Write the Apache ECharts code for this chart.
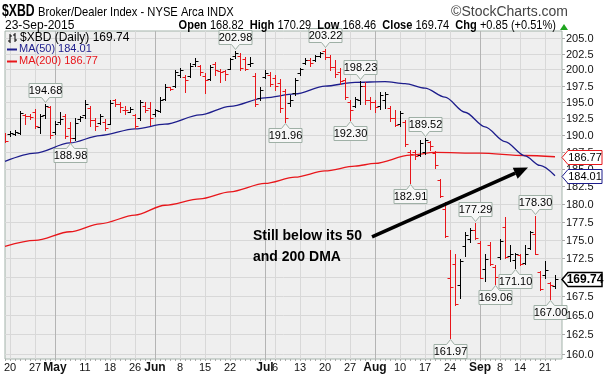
<!DOCTYPE html>
<html>
<head>
<meta charset="utf-8">
<script src="https://cdn.jsdelivr.net/npm/echarts@6/dist/echarts.min.js"></script>
<style>
  html, body { margin: 0; padding: 0; background: #fff; }
  #chart { width: 606px; height: 378px; }
</style>
</head>
<body>
<div id="chart"></div>
<script>
// $XBD daily OHLC, 17-Apr-2015 .. 23-Sep-2015
const dates = [
  '04-17','04-20','04-21','04-22','04-23','04-24','04-27','04-28','04-29','04-30',
  '05-01','05-04','05-05','05-06','05-07','05-08','05-11','05-12','05-13','05-14','05-15','05-18','05-19','05-20','05-21','05-22','05-26','05-27','05-28','05-29',
  '06-01','06-02','06-03','06-04','06-05','06-08','06-09','06-10','06-11','06-12','06-15','06-16','06-17','06-18','06-19','06-22','06-23','06-24','06-25','06-26','06-29','06-30',
  '07-01','07-02','07-06','07-07','07-08','07-09','07-10','07-13','07-14','07-15','07-16','07-17','07-20','07-21','07-22','07-23','07-24','07-27','07-28','07-29','07-30','07-31',
  '08-03','08-04','08-05','08-06','08-07','08-10','08-11','08-12','08-13','08-14','08-17','08-18','08-19','08-20','08-21','08-24','08-25','08-26','08-27','08-28','08-31',
  '09-01','09-02','09-03','09-04','09-08','09-09','09-10','09-11','09-14','09-15','09-16','09-17','09-18','09-21','09-22','09-23'
];
const opens = [
  190.0,190.2,190.2,190.3,193.0,192.9,193.4,191.2,193.0,194.2,
  190.4,191.9,192.9,191.0,189.6,192.4,193.0,194.0,192.3,191.8,192.0,191.7,195.3,194.6,193.8,193.5,193.0,192.5,194.4,194.1,
  193.1,193.6,195.4,197.2,197.5,199.2,198.8,199.0,200.9,200.5,199.0,198.5,200.8,199.8,199.8,200.1,202.1,202.2,201.7,200.8,199.0,195.6,
  198.9,199.2,198.6,197.9,196.6,194.8,196.4,199.4,201.0,201.5,201.5,202.1,203.0,201.9,200.4,199.6,198.3,195.0,194.4,195.3,197.4,195.3,
  194.9,194.3,195.2,194.0,192.6,191.7,191.9,187.5,187.5,187.0,187.4,188.9,187.3,183.4,179.3,169.85,171.7,168.9,174.1,175.1,176.35,
  174.6,171.0,174.3,171.3,172.6,176.7,172.8,172.2,172.9,171.9,173.9,175.8,170.6,170.2,169.1,168.82
];
const highs = [
  190.3,190.6,190.8,193.6,193.2,193.1,193.9,193.1,194.68,194.4,
  192.1,193.4,193.2,191.9,192.6,192.9,195.2,194.4,192.6,193.1,192.4,195.2,195.5,194.9,194.3,194.2,193.1,195.2,195.0,194.95,
  193.9,195.7,197.8,197.3,199.9,200.2,199.2,201.0,201.8,200.7,199.4,200.7,201.1,200.0,199.9,201.8,202.98,202.6,202.0,202.0,199.4,197.3,
  199.9,199.6,199.1,198.5,197.0,196.0,198.6,200.2,201.8,201.8,202.3,202.8,203.22,202.3,201.5,200.2,198.6,195.2,195.7,198.23,198.1,195.7,
  195.2,196.5,196.5,194.3,193.7,193.6,192.2,187.8,187.8,189.3,189.52,189.1,187.6,183.6,180.2,173.54,173.1,172.37,176.05,176.57,177.29,
  174.84,173.1,174.66,171.5,175.1,178.13,174.3,173.2,173.1,174.3,176.26,178.30,170.76,172.15,169.33,170.29
];
const lows = [
  189.0,189.9,190.0,190.1,191.6,192.4,191.1,190.3,192.6,189.6,
  190.1,191.6,189.6,188.98,189.3,192.1,192.6,191.4,190.8,191.6,190.8,191.6,194.4,193.4,193.2,193.4,191.0,192.3,193.4,191.5,
  192.9,193.4,195.2,196.8,197.3,198.9,196.5,198.9,200.5,199.15,196.3,198.4,199.15,198.1,198.4,200.0,201.8,199.9,199.9,200.5,194.4,195.2,
  198.6,197.4,196.8,193.5,191.96,194.3,196.1,199.2,200.9,200.5,201.4,201.9,201.6,199.9,198.9,197.8,195.5,192.30,194.2,194.7,194.7,193.9,
  193.4,193.9,194.0,192.1,191.3,191.4,188.3,182.91,186.4,186.9,187.1,187.8,185.1,181.0,175.4,161.97,166.3,167.17,172.8,174.75,175.1,
  169.77,169.46,171.63,169.06,172.37,172.5,172.15,171.10,171.6,171.7,173.67,173.0,168.25,169.77,167.00,168.46
];
const closes = [
  189.14,190.35,190.45,193.3,192.9,192.7,191.4,192.9,194.3,190.0,
  191.7,192.4,189.9,189.5,191.8,192.7,194.7,192.3,191.3,192.8,191.0,194.8,194.6,194.2,193.7,193.9,191.4,194.9,193.7,192.5,
  193.7,195.3,197.3,196.9,199.6,199.9,198.3,200.6,201.3,199.6,198.3,200.4,199.9,199.6,199.3,201.6,202.6,200.2,200.0,201.0,194.6,196.8,
  199.4,197.8,197.4,194.0,192.5,195.3,198.3,200.0,201.5,201.0,202.2,202.6,201.9,200.4,199.3,198.2,195.8,193.8,195.5,197.5,195.2,194.9,
  194.2,196.0,196.2,192.5,191.5,193.3,188.6,187.2,186.9,188.8,189.2,188.4,185.6,181.1,175.5,168.6,166.4,172.15,175.6,176.3,175.2,
  169.85,172.4,171.7,170.0,174.8,172.6,173.0,173.1,171.7,173.1,176.0,173.1,168.4,170.94,168.89,169.74
];

// moving averages, sampled off the chart at these bar positions
const ma50Idx = [0, 6, 13, 19, 26, 32, 39, 45, 52, 58, 64, 70, 76, 80, 84, 88, 92, 96, 100, 104, 107, 110];
const ma50Val = [186.1, 187.3, 188.8, 189.9, 190.9, 191.6, 193.0, 194.3, 195.6, 196.2, 197.4, 198.0, 198.1, 197.8, 197.1, 195.7, 193.4, 191.2, 189.0, 186.9, 185.5, 184.01];
const ma200Idx = [0, 6, 13, 19, 26, 32, 39, 45, 52, 58, 64, 70, 74, 81, 86, 95, 104, 110];
const ma200Val = [174.1, 174.9, 176.1, 177.2, 178.4, 179.8, 180.7, 181.7, 182.9, 183.8, 184.7, 185.4, 185.8, 187.0, 187.4, 187.3, 186.95, 186.77];

// price callouts
const calloutIdx = [8, 13, 46, 56, 64, 69, 71, 81, 84, 89, 94, 98, 102, 106, 109];
const calloutVal = [194.68, 188.98, 202.98, 191.96, 203.22, 192.30, 198.23, 182.91, 189.52, 161.97, 177.29, 169.06, 171.10, 178.30, 167.00];
const calloutHigh = [1, 0, 1, 0, 1, 0, 1, 0, 1, 0, 1, 0, 0, 1, 0];

// axis ticks
const tickIdx = [1, 6, 10, 16, 21, 26, 30, 35, 40, 45, 52, 54, 59, 64, 69, 74, 79, 84, 89, 95, 99, 103, 108];
const tickText = ['20', '27', 'May', '11', '18', '26', 'Jun', '8', '15', '22', 'Jul', '6', '13', '20', '27', 'Aug', '10', '17', '24', 'Sep', '8', '14', '21'];
const monthIdx = [10, 30, 52, 74, 95];
const yTicks = [160, 162.5, 165, 167.5, 170, 172.5, 175, 177.5, 180, 182.5, 185, 187.5, 190, 192.5, 195, 197.5, 200, 202.5, 205];

// arrow annotation (data coords)
const arrowFrom = [73.4, 175.4];
const arrowTo = [104.6, 185.2];

const FONT = '"Liberation Sans", Arial, sans-serif';
const RED = '#e8161b';
const NAVY = '#1d1d8c';

const bars = dates.map((d, i) => {
  const prev = i ? closes[i - 1] : opens[i];
  return [i, opens[i], highs[i], lows[i], closes[i], closes[i] >= prev ? 1 : 0];
});
const dayIdx = dates.map((d, i) => i);
const weekIdx = tickIdx.filter(i => monthIdx.indexOf(i) < 0);

function crisp (v) {
  return Math.round(v) + 0.5;
}

function renderBar (params, api) {
  const i = api.value(0);
  const x = crisp(api.coord([i, 180])[0]);
  const y = v => api.coord([i, v])[1];
  const color = api.value(5) ? '#000' : RED;
  const st = { stroke: color, lineWidth: 1 };
  const yo = crisp(y(api.value(1)));
  const yc = crisp(y(api.value(4)));
  return {
    type: 'group',
    children: [
      { type: 'line', shape: { x1: x, y1: Math.round(y(api.value(2))), x2: x, y2: Math.round(y(api.value(3))) + 1 }, style: st },
      { type: 'line', shape: { x1: x - 3, y1: yo, x2: x, y2: yo }, style: st },
      { type: 'line', shape: { x1: x, y1: yc, x2: x + 3, y2: yc }, style: st }
    ]
  };
}

function renderCallout (params, api) {
  const p = api.coord([api.value(0), api.value(1)]);
  const cx = crisp(p[0]);
  const w = 16.5;
  const h = 14;
  let pts, ty;
  if (api.value(2)) {
    const b = Math.round(p[1]) - 6.5;
    const t = b - h;
    pts = [[cx - w, t], [cx + w, t], [cx + w, b], [cx + 4, b], [cx, b + 5], [cx - 4, b], [cx - w, b]];
    ty = (t + b) / 2;
  } else {
    const t = Math.round(p[1]) + 6.5;
    const b = t + h;
    pts = [[cx - w, t], [cx - 4, t], [cx, t - 5], [cx + 4, t], [cx + w, t], [cx + w, b], [cx - w, b]];
    ty = (t + b) / 2;
  }
  return {
    type: 'group',
    children: [
      { type: 'polygon', shape: { points: pts }, style: { fill: '#f7f7f7', stroke: '#9fb0a6', lineWidth: 1 } },
      { type: 'text', style: { x: cx, y: ty + 0.5, text: api.value(1).toFixed(2), fill: '#000', fontSize: 11, fontFamily: FONT, align: 'center', verticalAlign: 'middle' } }
    ]
  };
}

function vLines (color) {
  return function (params, api) {
    const x = crisp(api.coord([api.value(0), 180])[0]);
    const cs = params.coordSys;
    return { type: 'line', shape: { x1: x, y1: cs.y, x2: x, y2: cs.y + cs.height }, style: { stroke: color, lineWidth: 1 } };
  };
}

function hLines (params, api) {
  const y = crisp(api.coord([0, api.value(1)])[1]);
  const cs = params.coordSys;
  return { type: 'line', shape: { x1: cs.x, y1: y, x2: cs.x + cs.width, y2: y }, style: { stroke: '#d8d8d8', lineWidth: 1 } };
}

// price labels on the right of the log axis
function yLabel (params, api) {
  const v = api.value(1);
  const y = crisp(api.coord([0, v])[1]);
  const x0 = params.coordSys.x + params.coordSys.width;
  return {
    type: 'group',
    children: [
      { type: 'line', shape: { x1: x0, y1: y, x2: x0 + 3, y2: y }, style: { stroke: '#aaa', lineWidth: 1 } },
      { type: 'text', style: { x: x0 + 4, y: y, text: v.toFixed(1), fill: '#111', fontSize: 11, fontFamily: FONT, align: 'left', verticalAlign: 'middle' } }
    ]
  };
}

const chart = echarts.init(document.getElementById('chart'));

chart.setOption({
  animation: false,
  textStyle: { fontFamily: FONT },
  grid: {
    left: 5, right: 44, top: 31, bottom: 19,
    show: true, backgroundColor: '#efefef', borderColor: '#a3b3aa', borderWidth: 1
  },
  xAxis: {
    type: 'value', min: 0, max: 111.4,
    axisLine: { show: false },
    splitLine: { show: false },
    axisTick: { show: true, customValues: dayIdx, length: 2, lineStyle: { color: '#aaa' } },
    axisLabel: {
      customValues: tickIdx,
      margin: 3,
      fontSize: 11,
      color: '#111',
      formatter: v => {
        const k = tickIdx.indexOf(v);
        const t = k < 0 ? '' : tickText[k];
        return monthIdx.indexOf(v) >= 0 ? '{m|' + t + '}' : t;
      },
      rich: { m: { fontWeight: 'bold', fontSize: 12, color: '#111', fontFamily: FONT } }
    }
  },
  yAxis: {
    type: 'log', logBase: 10, min: 159.37, max: 206.13,
    axisLine: { show: false },
    splitLine: { show: false },
    axisTick: { show: false },
    axisLabel: { show: false }
  },
  series: [
    { type: 'custom', silent: true, z: 1, renderItem: hLines, data: yTicks.map(v => [0, v]) },
    { type: 'custom', silent: true, z: 1, renderItem: vLines('#d8d8d8'), data: weekIdx.map(v => [v, 180]) },
    { type: 'custom', silent: true, z: 1, renderItem: vLines('#b4b4b4'), data: monthIdx.map(v => [v, 180]) },
    { type: 'custom', silent: true, z: 1, clip: false, renderItem: yLabel, data: yTicks.map(v => [0, v]) },
    {
      name: 'MA(200)', type: 'line', z: 3, symbol: 'none', smooth: 0.3, smoothMonotone: 'x',
      lineStyle: { color: RED, width: 1.3 },
      data: ma200Idx.map((x, k) => [x, ma200Val[k]])
    },
    {
      name: 'MA(50)', type: 'line', z: 3, symbol: 'none', smooth: 0.3, smoothMonotone: 'x',
      lineStyle: { color: NAVY, width: 1.3 },
      data: ma50Idx.map((x, k) => [x, ma50Val[k]])
    },
    { name: '$XBD', type: 'custom', z: 4, clip: true, renderItem: renderBar, encode: { x: 0, y: [1, 2, 3, 4] }, data: bars },
    {
      type: 'custom', z: 6, silent: true, renderItem: renderCallout, encode: { x: 0, y: 1 },
      data: calloutIdx.map((x, k) => [x, calloutVal[k], calloutHigh[k]])
    }
  ]
});

// overlay: header, legend, price tags, arrow
const last = dates.length - 1;
const toY = v => chart.convertToPixel({ yAxisIndex: 0 }, v);
const toPt = p => chart.convertToPixel({ gridIndex: 0 }, p);

function txt (x, y, text, opt, scaleX) {
  return {
    type: 'text', z: 100, x: x, y: y, scaleX: scaleX || 1,
    style: Object.assign({ x: 0, y: 0, text: text, fill: '#000', fontSize: 12, fontFamily: FONT, align: 'left', verticalAlign: 'middle' }, opt || {})
  };
}

function tag (v, color, bold) {
  const y = crisp(toY(v));
  return {
    type: 'group', z: 100,
    children: [
      { type: 'polygon', z: 100, shape: { points: [[562, y], [568, y - 7], [602, y - 7], [602, y + 7], [568, y + 7]] }, style: { fill: '#fff', stroke: color, lineWidth: bold ? 1.5 : 1 } },
      txt(585, y + 0.5, v.toFixed(2), { align: 'center', fontSize: bold ? 12 : 11, fontWeight: bold ? 'bold' : 'normal' })
    ]
  };
}

const a0 = toPt(arrowFrom);
const a1 = toPt(arrowTo);
const ang = Math.atan2(a1[1] - a0[1], a1[0] - a0[0]);
const headLen = 14;
const headW = 6;
const base = [a1[0] - headLen * Math.cos(ang), a1[1] - headLen * Math.sin(ang)];

chart.setOption({
  graphic: [
    txt(2, 11, '$XBD', { fontSize: 17, fontWeight: 'bold' }, 0.72),
    txt(38, 12, 'Broker/Dealer Index - NYSE Arca INDX', { fontSize: 13 }, 0.86),
    txt(568, 12, '\u00a9StockCharts.com', { fontSize: 14, fill: '#444', align: 'right' }),
    txt(5, 26, '23-Sep-2015', { fontSize: 12 }),
    txt(556, 26, '{k|Open} ' + opens[last].toFixed(2) + '  {k|High} ' + highs[last].toFixed(2) +
      '  {k|Low} ' + lows[last].toFixed(2) + '  {k|Close} ' + closes[last].toFixed(2) + '  {k|Chg} +0.85 (+0.51%)',
    { align: 'right', fontSize: 12, rich: { k: { fontWeight: 'bold', fontSize: 12, fontFamily: FONT } } }, 0.92),
    { type: 'polygon', z: 100, shape: { points: [[560, 30], [568, 30], [564, 24]] }, style: { fill: '#1fa51f' } },

    // legend
    { type: 'polyline', z: 100, shape: { points: [[10, 34], [10, 43]] }, style: { stroke: '#000', lineWidth: 1 } },
    { type: 'polyline', z: 100, shape: { points: [[8, 41], [10, 41]] }, style: { stroke: '#000', lineWidth: 1 } },
    { type: 'polyline', z: 100, shape: { points: [[10, 36], [12, 36]] }, style: { stroke: '#000', lineWidth: 1 } },
    { type: 'polyline', z: 100, shape: { points: [[15, 33], [15, 42]] }, style: { stroke: '#000', lineWidth: 1 } },
    { type: 'polyline', z: 100, shape: { points: [[13, 35], [15, 35]] }, style: { stroke: '#000', lineWidth: 1 } },
    { type: 'polyline', z: 100, shape: { points: [[15, 40], [17, 40]] }, style: { stroke: '#000', lineWidth: 1 } },
    txt(20, 38, '$XBD (Daily) ' + closes[last].toFixed(2), { fontSize: 12 }),
    { type: 'polyline', z: 100, shape: { points: [[7, 49.5], [17, 49.5]] }, style: { stroke: NAVY, lineWidth: 2 } },
    txt(19, 49, 'MA(50) ' + ma50Val[ma50Val.length - 1].toFixed(2), { fontSize: 11, fill: NAVY }),
    { type: 'polyline', z: 100, shape: { points: [[7, 61.5], [17, 61.5]] }, style: { stroke: RED, lineWidth: 2 } },
    txt(19, 61, 'MA(200) ' + ma200Val[ma200Val.length - 1].toFixed(2), { fontSize: 11, fill: RED }),

    // right-hand price tags
    tag(ma200Val[ma200Val.length - 1], RED, false),
    tag(ma50Val[ma50Val.length - 1], NAVY, false),
    tag(closes[last], '#000', true),

    // arrow + note
    { type: 'line', z: 100, shape: { x1: a0[0], y1: a0[1], x2: base[0], y2: base[1] }, style: { stroke: '#000', lineWidth: 3.5 } },
    {
      type: 'polygon', z: 100,
      shape: {
        points: [a1,
          [base[0] + headW * Math.sin(ang), base[1] - headW * Math.cos(ang)],
          [base[0] - headW * Math.sin(ang), base[1] + headW * Math.cos(ang)]]
      },
      style: { fill: '#000' }
    },
    txt(253, 226, 'Still below its 50\nand 200 DMA', { fontSize: 14, fontWeight: 'bold', lineHeight: 21, verticalAlign: 'top' })
  ]
});
</script>
</body>
</html>
